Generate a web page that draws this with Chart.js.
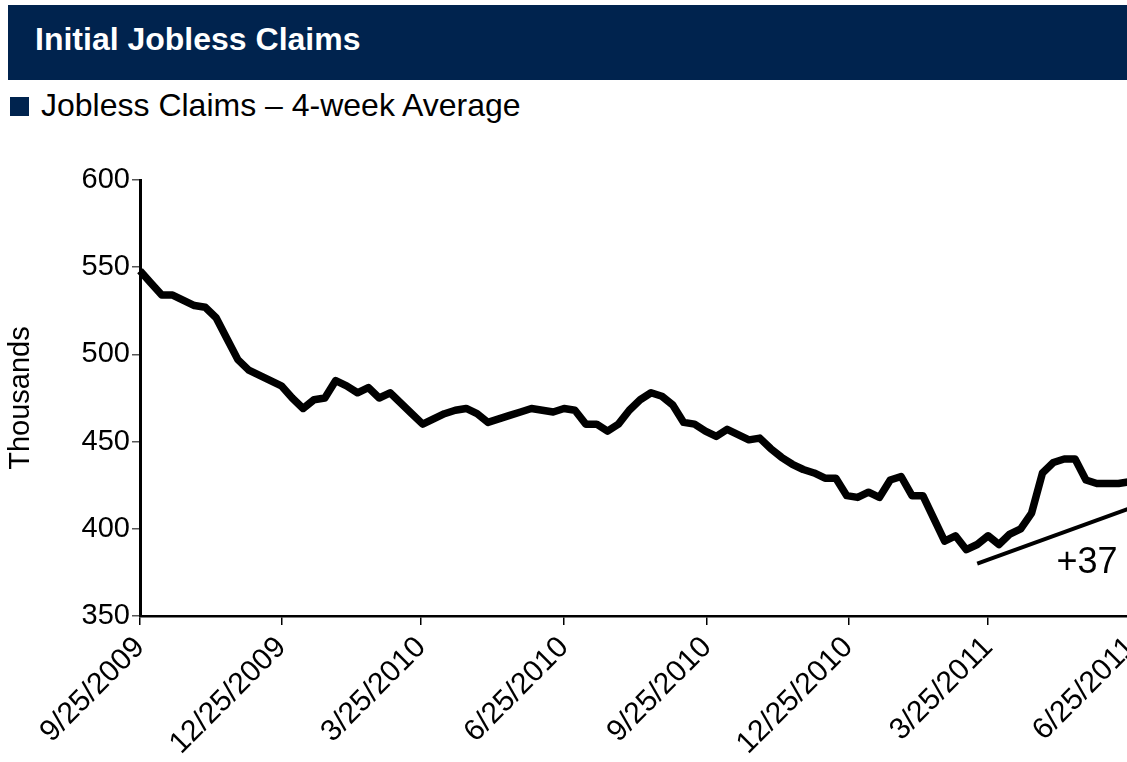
<!DOCTYPE html>
<html>
<head>
<meta charset="utf-8">
<script src="https://cdn.jsdelivr.net/npm/chart.js@4.4.1/dist/chart.umd.min.js"></script>
<style>
  html, body { margin: 0; padding: 0; background: #fff; }
  body { width: 1127px; height: 762px; overflow: hidden; position: relative; font-family: 'Liberation Sans', Arial, sans-serif; }
  #header { position: absolute; left: 8px; top: 5px; width: 1119px; height: 75px; background: #00234E; }
  #title { position: absolute; left: 35px; top: 23px; font-size: 32px; line-height: 32px; font-weight: bold; color: #fff; white-space: nowrap; }
  #legSwatch { position: absolute; left: 10px; top: 97px; width: 19px; height: 19px; background: #00234E; }
  #legText { position: absolute; left: 41px; top: 89px; font-size: 32px; line-height: 32px; color: #000; white-space: nowrap; }
  #wrap { position: absolute; left: 0; top: 130px; width: 1180px; height: 632px; }
</style>
</head>
<body>
<div id="header"></div>
<div id="title">Initial Jobless Claims</div>
<div id="legSwatch"></div>
<div id="legText">Jobless Claims – 4-week Average</div>
<div id="wrap"><canvas id="c" width="1180" height="632"></canvas></div>
<script>
// ---- data ----
const seriesStart = '2009-09-25';           // first weekly observation
const claims = [548, 541, 534, 534, 531, 528, 527, 521, 509, 497,
                491, 488, 485, 482, 475, 469, 474, 475, 485, 482,
                478, 481, 475, 478, 472, 466, 460, 463, 466, 468,
                469, 466, 461, 463, 465, 467, 469, 468, 467, 469,
                468, 460, 460, 456, 460, 468, 474, 478, 476, 471,
                461, 460, 456, 453, 457, 454, 451, 452, 446, 441,
                437, 434, 432, 429, 429, 419, 418, 421, 418, 428,
                430, 419, 419, 406, 393, 396, 388, 391, 396, 391,
                397, 400, 409, 432, 438, 440, 440, 428, 426, 426, 426, 427];
const tickLabels = ['9/25/2009', '12/25/2009', '3/25/2010', '6/25/2010',
                    '9/25/2010', '12/25/2010', '3/25/2011', '6/25/2011'];
const yTicks = [350, 400, 450, 500, 550, 600];
const trendDates = ['2011-03-18', '2011-06-25'];
const trendValues = [380, 412];
const annotationText = '+37';

// ---- helpers ----
function dayOffset(iso) {
  const [y, m, d] = iso.split('-').map(Number);
  const [y0, m0, d0] = seriesStart.split('-').map(Number);
  return Math.round((Date.UTC(y, m - 1, d) - Date.UTC(y0, m0 - 1, d0)) / 86400000);
}
function usToIso(s) {
  const [m, d, y] = s.split('/');
  return y + '-' + m.padStart(2, '0') + '-' + d.padStart(2, '0');
}
const tickDays = tickLabels.map(l => dayOffset(usToIso(l)));
const claimPoints = claims.map((v, i) => ({ x: i * 7, y: v }));
const trendPoints = trendDates.map((d, i) => ({ x: dayOffset(d), y: trendValues[i] }));

const FONT = "'Liberation Sans', Arial, sans-serif";

const annotationPlugin = {
  id: 'annot',
  afterDatasetsDraw(chart) {
    const { ctx, scales } = chart;
    const x = scales.x.getPixelForValue(590);
    const y = scales.y.getPixelForValue(374.7);
    ctx.save();
    ctx.font = '36px ' + FONT;
    ctx.fillStyle = '#000';
    ctx.textAlign = 'left';
    ctx.textBaseline = 'alphabetic';
    ctx.fillText(annotationText, x, y);
    ctx.restore();
  }
};

new Chart(document.getElementById('c'), {
  type: 'line',
  data: {
    datasets: [
      {
        label: 'Jobless Claims – 4-week Average',
        data: claimPoints,
        borderColor: '#000',
        borderWidth: 7.5,
        pointRadius: 0,
        tension: 0,
        borderJoinStyle: 'round',
        borderCapStyle: 'butt',
        clip: false
      },
      {
        label: 'Trend',
        data: trendPoints,
        borderColor: '#000',
        borderWidth: 4,
        pointRadius: 0,
        tension: 0
      }
    ]
  },
  options: {
    responsive: false,
    animation: false,
    devicePixelRatio: 1,
    layout: { padding: { left: 0, right: 49, top: 50, bottom: 0 } },
    plugins: { legend: { display: false }, tooltip: { enabled: false } },
    scales: {
      x: {
        type: 'linear',
        min: tickDays[0],
        max: tickDays[tickDays.length - 1],
        afterBuildTicks: s => { s.ticks = tickDays.map(v => ({ value: v })); },
        afterFit: s => { s.height = 146; },
        ticks: {
          autoSkip: false,
          maxRotation: 45,
          minRotation: 45,
          padding: 5,
          color: '#000',
          font: { family: FONT, size: 30 },
          callback: v => tickLabels[tickDays.indexOf(v)]
        },
        grid: { drawOnChartArea: false, drawTicks: true, tickLength: 9, color: '#000', lineWidth: 1.5 },
        border: { display: true, color: '#000', width: 2.5 }
      },
      y: {
        min: 350,
        max: 600,
        afterBuildTicks: s => { s.ticks = yTicks.map(v => ({ value: v })); },
        afterFit: s => { s.width = 140; },
        ticks: {
          padding: 2,
          color: '#000',
          font: { family: FONT, size: 29 }
        },
        grid: { drawOnChartArea: false, drawTicks: true, tickLength: 8, color: '#555', lineWidth: 1.5 },
        border: { display: true, color: '#000', width: 3 },
        title: {
          display: true,
          text: 'Thousands',
          color: '#000',
          font: { family: FONT, size: 29 },
          padding: { top: 4, bottom: 0 }
        }
      }
    }
  },
  plugins: [annotationPlugin]
});
</script>
</body>
</html>
